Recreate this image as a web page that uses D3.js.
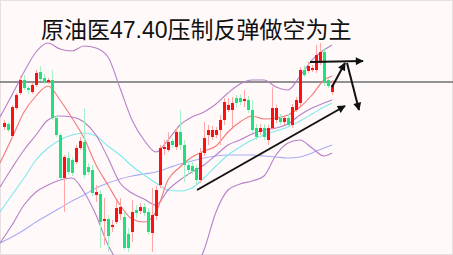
<!DOCTYPE html>
<html>
<head>
<meta charset="utf-8">
<script src="https://cdn.jsdelivr.net/npm/d3@7/dist/d3.min.js"></script>
<style>
  html, body { margin: 0; padding: 0; background: #fff; }
  svg { display: block; }
</style>
</head>
<body>
<div id="chart"></div>
<script>
// K线数据 (开/收/高/低)
const opens  = [46.50,46.56,46.32,46.88,47.18,47.44,47.28,47.20,47.34,47.60,47.48,47.40,47.44,46.68,46.34,45.48,45.88,45.84,45.80,46.08,
                46.20,45.70,45.64,45.14,45.16,44.62,44.66,44.50,44.60,44.76,44.70,44.36,44.40,44.84,44.82,44.90,44.80,44.38,44.72,45.34,
                46.06,46.04,46.22,46.10,46.40,46.14,45.74,45.72,45.68,45.44,45.98,46.34,46.30,46.34,46.44,46.64,46.84,46.84,47.08,47.08,
                47.02,47.04,46.84,46.48,46.40,46.48,46.24,46.48,46.64,46.68,46.60,46.68,46.54,46.84,46.98,47.64,47.62,47.64,47.64,47.78,
                48.00,47.44,47.20];
const closes = [46.58,46.44,46.90,47.14,47.44,47.28,47.24,47.34,47.58,47.46,47.40,47.44,46.68,46.34,45.48,45.90,45.60,45.58,46.08,46.22,
                45.54,45.60,45.18,45.20,44.60,44.66,44.32,44.54,44.88,44.90,44.08,44.08,44.80,44.78,44.90,44.78,44.40,44.74,45.24,46.08,
                46.10,46.20,46.14,46.40,46.14,45.74,45.64,45.62,45.44,45.98,46.28,46.44,46.44,46.44,46.64,47.00,46.94,46.98,46.98,47.00,
                47.06,46.84,46.44,46.30,46.48,46.30,46.48,46.88,46.88,46.60,46.68,46.54,46.90,47.04,47.64,47.54,47.72,47.68,47.94,48.00,
                47.38,47.32,47.34];
const highs  = [46.64,46.60,46.94,47.18,47.52,47.54,47.32,47.38,47.64,47.72,47.56,47.48,47.64,46.74,46.38,45.94,46.00,45.90,46.14,46.30,
                46.88,45.78,45.74,45.34,45.24,45.08,44.74,44.64,45.04,45.08,44.80,44.48,45.04,44.94,44.98,44.98,44.88,45.28,45.32,46.14,
                46.24,46.40,46.28,46.48,46.84,46.24,45.84,45.80,45.74,46.08,46.60,46.54,46.52,46.50,46.74,47.08,47.08,47.10,47.14,47.14,
                47.24,47.12,47.04,46.56,46.56,46.56,46.54,47.30,46.94,46.76,46.74,46.76,46.96,47.10,47.70,47.74,47.80,47.74,48.14,48.18,
                48.08,47.48,47.44];
const lows   = [46.44,46.40,46.28,46.84,47.14,47.24,47.16,47.16,47.30,47.42,47.36,47.36,46.64,46.30,45.44,44.80,45.54,45.52,45.76,46.04,
                45.48,45.54,45.12,45.00,44.08,44.14,44.00,44.40,44.56,44.64,44.04,44.00,44.20,44.68,44.76,44.72,44.34,44.00,44.64,45.28,
                45.94,46.00,46.08,46.04,46.04,45.40,45.54,45.56,45.34,45.38,45.92,46.14,46.24,46.28,46.14,46.54,46.80,46.50,46.88,46.94,
                46.90,46.78,46.38,46.24,46.34,46.24,46.14,46.44,46.58,46.54,46.54,46.50,46.48,46.80,46.92,47.50,47.58,47.60,47.58,47.74,
                47.32,47.28,47.14];

// 指标线取样位置 (K线序号)
const lineIdx   = [-1,2,5,8,11,14,17,20,23,26,29,32,35,38,41,44,47,50,53,56,59,62,65,68,71,74,77,80,82];
const bollUpper = [46.70,47.14,47.60,48.00,48.18,48.06,48.02,48.12,48.08,47.90,47.28,46.64,46.24,46.00,46.24,46.54,46.70,46.80,46.96,47.18,
                   47.36,47.44,47.44,47.30,47.24,47.52,47.84,48.04,48.14];
const bollMid   = [45.30,45.68,46.04,46.34,46.64,46.72,46.70,46.60,46.34,45.88,45.38,45.18,45.06,44.94,45.24,45.44,45.60,45.74,45.94,46.14,
                   46.24,46.36,46.44,46.48,46.56,46.74,46.88,46.98,47.04];
const bollLower = [44.18,44.54,44.94,45.20,45.34,45.44,45.48,45.20,44.74,44.14,43.74,43.44,43.24,43.14,43.20,43.34,43.54,44.04,44.80,45.24,
                   45.36,45.42,45.52,45.94,46.18,46.24,46.08,45.92,45.98];
const maRed     = [45.78,46.28,46.80,47.12,47.32,47.04,46.68,46.28,45.74,45.34,44.94,44.66,44.60,44.80,45.44,45.70,45.90,46.02,46.12,46.40,
                   46.60,46.72,46.66,46.68,46.74,46.90,47.14,47.44,47.52];
const maCyan    = [44.80,45.14,45.48,45.84,46.08,46.24,46.34,46.38,46.32,46.12,45.94,45.72,45.54,45.38,45.24,45.22,45.28,45.48,45.72,45.94,
                   46.10,46.24,46.34,46.42,46.50,46.62,46.76,46.90,46.98];
const maBlue    = [44.18,44.30,44.44,44.60,44.74,44.88,45.02,45.14,45.28,45.38,45.46,45.52,45.56,45.60,45.68,45.76,45.82,45.88,45.92,45.94,
                   45.94,45.94,45.92,45.90,45.88,45.90,45.98,46.08,46.14];

const resistance = 47.40;
const titleText = "原油医47.40压制反弹做空为主";

// 箭头 [起点序号, 起点价格, 终点序号, 终点价格]
const arrows = [
  [48.25, 45.24, 85.25, 46.92],
  [76.5, 47.80, 89.75, 47.82],
  [82, 47.30, 85.25, 47.78],
  [85.75, 47.78, 88.75, 46.84]
];

const width = 453, height = 255;

const svg = d3.select("#chart").append("svg")
  .attr("width", width)
  .attr("height", height);

svg.append("rect")
  .attr("x", 0.5).attr("y", 0.5)
  .attr("width", width - 1).attr("height", height - 1)
  .attr("fill", "#fffaf9")
  .attr("stroke", "#e6e0e0");

const x = d3.scaleLinear().domain([-1, 82]).range([0, 332]);
const y = d3.scaleLinear().domain([49.04, 43.94]).range([0, 255]);

// 压力线
svg.append("line")
  .attr("x1", 0).attr("x2", width)
  .attr("y1", y(resistance)).attr("y2", y(resistance))
  .attr("stroke", "#6f6f6f")
  .attr("stroke-width", 1.5);

const plot = svg.append("g");

// 指标线
const lineGen = d3.line()
  .x((d, i) => x(lineIdx[i]))
  .y(d => y(d))
  .curve(d3.curveMonotoneX);

const series = [
  { data: maBlue, color: "#aaaaf4" },
  { data: maCyan, color: "#7fe8ef" },
  { data: bollLower, color: "#b67fc9" },
  { data: bollMid, color: "#b67fc9" },
  { data: bollUpper, color: "#b67fc9" },
  { data: maRed, color: "#f27878" }
];

series.forEach(s => {
  plot.append("path")
    .attr("d", lineGen(s.data))
    .attr("fill", "none")
    .attr("stroke", s.color)
    .attr("stroke-width", 1.1);
});

// K线
const candles = opens.map((o, i) => ({ i, o, c: closes[i], h: highs[i], l: lows[i] }));

const g = plot.selectAll(".candle")
  .data(candles)
  .enter().append("g")
  .attr("class", "candle");

g.append("line")
  .attr("x1", d => x(d.i) + 0.5).attr("x2", d => x(d.i) + 0.5)
  .attr("y1", d => y(d.h)).attr("y2", d => y(d.l))
  .attr("stroke", d => d.c >= d.o ? "#ffa6a6" : "#a6f0c6")
  .attr("stroke-width", 1);

g.append("rect")
  .attr("x", d => x(d.i) - 1)
  .attr("y", d => y(Math.max(d.o, d.c)))
  .attr("width", 3)
  .attr("height", d => Math.max(1.5, Math.abs(y(d.o) - y(d.c))))
  .attr("fill", d => d.c >= d.o ? "#ff1010" : "#1ee07c");

// 箭头
const defs = svg.append("defs");
defs.append("marker")
  .attr("id", "arrow")
  .attr("viewBox", "0 0 10 10")
  .attr("refX", 9).attr("refY", 5)
  .attr("markerWidth", 10).attr("markerHeight", 8)
  .attr("markerUnits", "userSpaceOnUse")
  .attr("orient", "auto")
  .append("path")
  .attr("d", "M0,0 L10,5 L0,10 Z")
  .attr("fill", "#111");

svg.selectAll(".arrow")
  .data(arrows)
  .enter().append("line")
  .attr("class", "arrow")
  .attr("x1", d => x(d[0])).attr("y1", d => y(d[1]))
  .attr("x2", d => x(d[2])).attr("y2", d => y(d[3]))
  .attr("stroke", "#111")
  .attr("stroke-width", 2)
  .attr("marker-end", "url(#arrow)");

// 标题
svg.append("text")
  .attr("x", 41)
  .attr("y", 38)
  .attr("font-family", "'Liberation Sans', 'Noto Sans CJK SC', sans-serif")
  .attr("font-size", 23)
  .attr("fill", "#111")
  .text(titleText);
</script>
</body>
</html>
